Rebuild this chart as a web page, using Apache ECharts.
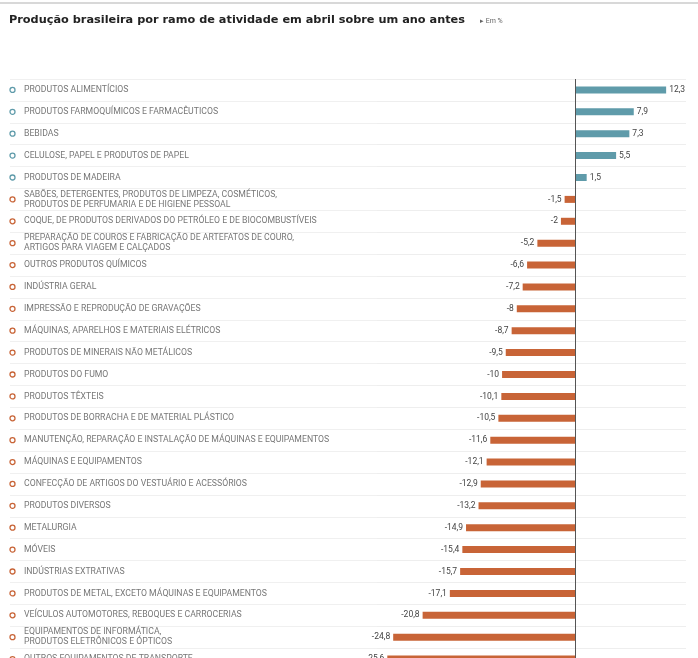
<!DOCTYPE html>
<html>
<head>
<meta charset="utf-8">
<script src="https://cdn.jsdelivr.net/npm/echarts@6/dist/echarts.min.js"></script>
<style>
html,body{margin:0;padding:0;background:#fff;}
#c{width:698px;height:658px;}
</style>
</head>
<body>
<div id="c"></div>
<script>
const categories = [
  "PRODUTOS ALIMENTÍCIOS",
  "PRODUTOS FARMOQUÍMICOS E FARMACÊUTICOS",
  "BEBIDAS",
  "CELULOSE, PAPEL E PRODUTOS DE PAPEL",
  "PRODUTOS DE MADEIRA",
  "SABÕES, DETERGENTES, PRODUTOS DE LIMPEZA, COSMÉTICOS,\nPRODUTOS DE PERFUMARIA E DE HIGIENE PESSOAL",
  "COQUE, DE PRODUTOS DERIVADOS DO PETRÓLEO E DE BIOCOMBUSTÍVEIS",
  "PREPARAÇÃO DE COUROS E FABRICAÇÃO DE ARTEFATOS DE COURO,\nARTIGOS PARA VIAGEM E CALÇADOS",
  "OUTROS PRODUTOS QUÍMICOS",
  "INDÚSTRIA GERAL",
  "IMPRESSÃO E REPRODUÇÃO DE GRAVAÇÕES",
  "MÁQUINAS, APARELHOS E MATERIAIS ELÉTRICOS",
  "PRODUTOS DE MINERAIS NÃO METÁLICOS",
  "PRODUTOS DO FUMO",
  "PRODUTOS TÊXTEIS",
  "PRODUTOS DE BORRACHA E DE MATERIAL PLÁSTICO",
  "MANUTENÇÃO, REPARAÇÃO E INSTALAÇÃO DE MÁQUINAS E EQUIPAMENTOS",
  "MÁQUINAS E EQUIPAMENTOS",
  "CONFECÇÃO DE ARTIGOS DO VESTUÁRIO E ACESSÓRIOS",
  "PRODUTOS DIVERSOS",
  "METALURGIA",
  "MÓVEIS",
  "INDÚSTRIAS EXTRATIVAS",
  "PRODUTOS DE METAL, EXCETO MÁQUINAS E EQUIPAMENTOS",
  "VEÍCULOS AUTOMOTORES, REBOQUES E CARROCERIAS",
  "EQUIPAMENTOS DE INFORMÁTICA,\nPRODUTOS ELETRÔNICOS E ÓPTICOS",
  "OUTROS EQUIPAMENTOS DE TRANSPORTE"
];
const values = [12.3, 7.9, 7.3, 5.5, 1.5, -1.5, -2, -5.2, -6.6, -7.2, -8, -8.7, -9.5, -10, -10.1, -10.5, -11.6, -12.1, -12.9, -13.2, -14.9, -15.4, -15.7, -17.1, -20.8, -24.8, -25.6];
const title = "Produção brasileira por ramo de atividade em abril sobre um ano antes";
const unitNote = "▸ Em %";

const POS = '#5f9baa', NEG = '#c86437';
const fmt = v => String(v).replace('.', ',');

const chart = echarts.init(document.getElementById('c'), null, {renderer: 'canvas'});
const gridLeft = 377;

chart.setOption({
  animation: false,
  backgroundColor: '#fff',
  textStyle: {fontFamily: 'Roboto, "Noto Sans", sans-serif'},
  graphic: [
    {type: 'line', shape: {x1: 0, y1: 3, x2: 698, y2: 3}, style: {stroke: '#d8d8d8', lineWidth: 2}},
    {type: 'text', left: 9, top: 15, style: {text: title, font: 'bold 11.3px "DejaVu Sans", sans-serif', fill: '#222'}},
    {type: 'text', left: 480, top: 18, style: {text: unitNote, font: '7px Roboto, sans-serif', fill: '#666'}}
  ],
  grid: {left: gridLeft, top: 79, width: 309, height: 591, containLabel: false, outerBoundsMode: 'none'},
  xAxis: {
    type: 'value', min: -27, max: 15, show: false
  },
  yAxis: [
    {
      type: 'category', inverse: true, data: categories,
      axisLine: {show: false, onZero: false},
      axisTick: {show: false},
      splitLine: {show: true, lineStyle: {color: '#eeeeee', width: 1}},
      axisLabel: {
        align: 'left', margin: gridLeft - 24, fontSize: 8.7, lineHeight: 10,
        color: '#777', fontFamily: 'Roboto, sans-serif', interval: 0
      }
    },
    {
      type: 'category', inverse: true, data: categories, position: 'left',
      axisLine: {show: false, onZero: false},
      axisTick: {show: true, length: gridLeft - 10, lineStyle: {color: '#f0f0f0'}},
      axisLabel: {
        align: 'left', margin: gridLeft - 10, interval: 0,
        formatter: (v, i) => values[i] >= 0 ? '{p|}' : '{n|}',
        rich: {
          p: {width: 5, height: 5, borderColor: POS, borderWidth: 1.3, borderRadius: 5},
          n: {width: 5, height: 5, borderColor: NEG, borderWidth: 1.3, borderRadius: 5}
        }
      }
    }
  ],
  series: [{
    type: 'bar', yAxisIndex: 0, barWidth: 7,
    data: values.map(v => ({
      value: v,
      itemStyle: {color: v >= 0 ? POS : NEG},
      label: {show: true, position: v >= 0 ? 'right' : 'left', distance: 3,
              formatter: fmt(v), fontSize: 8.5, color: '#444'}
    })),
    markLine: {
      silent: true, symbol: 'none', label: {show: false},
      lineStyle: {color: '#555', type: 'solid', width: 1},
      data: [{xAxis: 0}]
    }
  }]
});
</script>
</body>
</html>
